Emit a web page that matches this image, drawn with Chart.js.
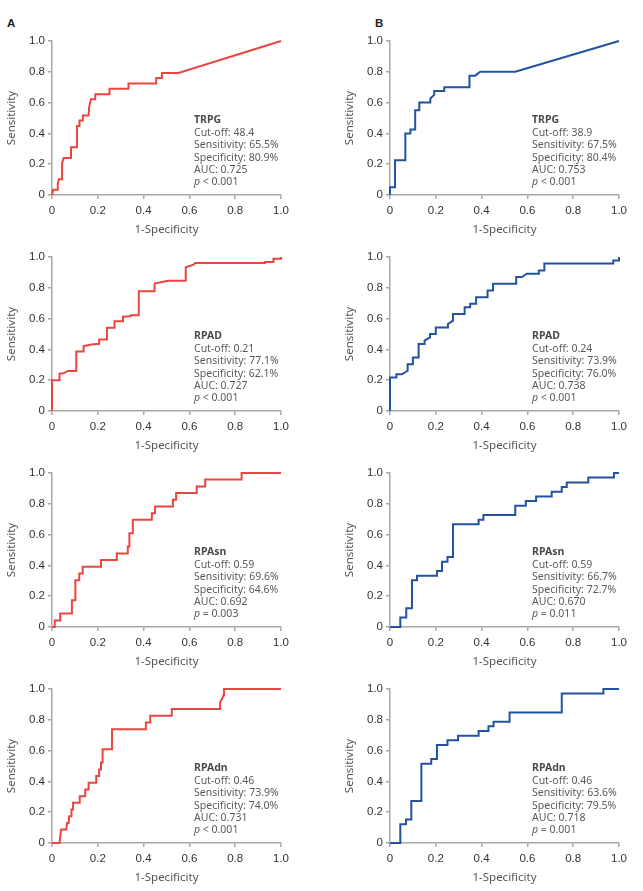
<!DOCTYPE html>
<html><head><meta charset="utf-8">
<script src="https://cdn.jsdelivr.net/npm/chart.js@4/dist/chart.umd.min.js"></script>
<style>
html,body{margin:0;padding:0;background:#fff;width:643px;height:891px;overflow:hidden;position:relative}
canvas{position:absolute}
.lab{position:absolute;font:bold 11.5px "Liberation Sans",Arial,sans-serif;color:#222}
</style></head><body>
<div class="lab" style="left:7px;top:17px">A</div>
<div class="lab" style="left:375px;top:17px">B</div>
<script>
// ---- tick labels ----
const tickLabels = ['0','0.2','0.4','0.6','0.8','1.0'];
const xTitle = '1-Specificity';
const yTitle = 'Sensitivity';

// ---- panel A (red) ----
const fprA1 = [0,0.005,0.022,0.025,0.03,0.044,0.044,0.051,0.083,0.083,0.109,0.109,0.12,0.12,0.135,0.135,0.16,0.162,0.17,0.189,0.189,0.251,0.251,0.334,0.334,0.455,0.455,0.478,0.48,0.552,1];
const tprA1 = [0,0.034,0.034,0.07,0.103,0.103,0.207,0.241,0.241,0.31,0.31,0.448,0.448,0.483,0.483,0.517,0.517,0.569,0.621,0.621,0.655,0.655,0.69,0.69,0.724,0.724,0.759,0.759,0.793,0.793,1];

const fprA2 = [0,0,0.033,0.033,0.05,0.07,0.106,0.106,0.138,0.138,0.172,0.206,0.206,0.24,0.24,0.273,0.273,0.31,0.31,0.344,0.344,0.379,0.379,0.448,0.448,0.48,0.508,0.584,0.584,0.618,0.625,0.93,0.93,0.967,0.967,1,1];
const tprA2 = [0,0.2,0.2,0.242,0.245,0.26,0.26,0.387,0.387,0.421,0.432,0.436,0.464,0.464,0.54,0.54,0.583,0.583,0.612,0.616,0.622,0.622,0.778,0.778,0.828,0.838,0.845,0.845,0.933,0.95,0.961,0.961,0.968,0.968,0.989,0.989,1];

const fprA3 = [0,0.012,0.012,0.036,0.036,0.087,0.087,0.102,0.102,0.119,0.119,0.134,0.134,0.214,0.214,0.283,0.283,0.331,0.331,0.338,0.338,0.353,0.353,0.436,0.436,0.45,0.45,0.528,0.528,0.542,0.542,0.632,0.632,0.669,0.669,0.828,0.828,1];
const tprA3 = [0,0,0.043,0.043,0.087,0.087,0.174,0.174,0.304,0.304,0.348,0.348,0.391,0.391,0.435,0.435,0.478,0.478,0.522,0.522,0.609,0.609,0.696,0.696,0.739,0.739,0.783,0.783,0.826,0.826,0.87,0.87,0.913,0.913,0.957,0.957,1,1];

const fprA4 = [0,0.033,0.036,0.04,0.062,0.066,0.073,0.075,0.083,0.085,0.092,0.092,0.121,0.121,0.145,0.145,0.16,0.16,0.193,0.193,0.206,0.206,0.214,0.214,0.221,0.221,0.262,0.262,0.41,0.41,0.429,0.429,0.523,0.523,0.734,0.734,0.742,0.748,0.751,1];
const tprA4 = [0,0,0.043,0.087,0.087,0.13,0.13,0.174,0.174,0.217,0.217,0.261,0.261,0.304,0.304,0.348,0.348,0.391,0.391,0.435,0.435,0.478,0.478,0.522,0.522,0.609,0.609,0.739,0.739,0.783,0.783,0.826,0.826,0.87,0.87,0.913,0.935,0.957,1,1];

// ---- panel B (blue) ----
const fprB1 = [0,0,0.022,0.022,0.067,0.067,0.089,0.089,0.11,0.11,0.128,0.128,0.176,0.176,0.185,0.193,0.193,0.237,0.237,0.347,0.347,0.372,0.394,0.547,1];
const tprB1 = [0,0.05,0.05,0.225,0.225,0.4,0.4,0.425,0.425,0.55,0.55,0.6,0.6,0.625,0.64,0.65,0.675,0.675,0.7,0.7,0.775,0.775,0.8,0.8,1];

const fprB2 = [0,0,0.028,0.028,0.052,0.065,0.077,0.077,0.1,0.1,0.125,0.125,0.151,0.151,0.175,0.175,0.2,0.2,0.253,0.253,0.275,0.275,0.326,0.326,0.35,0.35,0.376,0.376,0.426,0.426,0.45,0.45,0.551,0.551,0.576,0.597,0.65,0.65,0.674,0.674,0.975,0.975,1,1];
const tprB2 = [0,0.217,0.217,0.239,0.239,0.25,0.261,0.304,0.304,0.348,0.348,0.435,0.435,0.457,0.478,0.5,0.5,0.543,0.543,0.565,0.587,0.63,0.63,0.674,0.674,0.696,0.696,0.739,0.739,0.783,0.783,0.826,0.826,0.87,0.87,0.891,0.891,0.913,0.913,0.957,0.957,0.978,0.978,1];

const fprB3 = [0,0.045,0.045,0.071,0.071,0.096,0.096,0.118,0.118,0.205,0.205,0.227,0.227,0.251,0.251,0.275,0.275,0.387,0.387,0.408,0.408,0.547,0.547,0.593,0.593,0.638,0.638,0.706,0.706,0.75,0.75,0.772,0.772,0.866,0.866,0.978,0.978,1];
const tprB3 = [0,0,0.061,0.061,0.121,0.121,0.303,0.303,0.333,0.333,0.364,0.364,0.424,0.424,0.455,0.455,0.667,0.667,0.697,0.697,0.727,0.727,0.788,0.788,0.818,0.818,0.848,0.848,0.879,0.879,0.909,0.909,0.939,0.939,0.97,0.97,1,1];

const fprB4 = [0,0.045,0.045,0.07,0.07,0.093,0.093,0.137,0.137,0.18,0.18,0.205,0.205,0.251,0.251,0.297,0.297,0.387,0.387,0.43,0.43,0.452,0.452,0.522,0.522,0.75,0.75,0.932,0.932,1];
const tprB4 = [0,0,0.121,0.121,0.152,0.152,0.273,0.273,0.515,0.515,0.545,0.545,0.636,0.636,0.667,0.667,0.697,0.697,0.727,0.727,0.758,0.758,0.788,0.788,0.848,0.848,0.97,0.97,1,1];

// ---- annotations ----
const markers   = ['TRPG','TRPG','RPAD','RPAD','RPAsn','RPAsn','RPAdn','RPAdn'];
const cutoffs   = ['48.4','38.9','0.21','0.24','0.59','0.59','0.46','0.46'];
const sensTexts = ['65.5%','67.5%','77.1%','73.9%','69.6%','66.7%','73.9%','63.6%'];
const specTexts = ['80.9%','80.4%','62.1%','76.0%','64.6%','72.7%','74.0%','79.5%'];
const aucTexts  = ['0.725','0.753','0.727','0.738','0.692','0.670','0.731','0.718'];
const pTexts    = ['< 0.001','< 0.001','< 0.001','< 0.001','= 0.003','= 0.011','< 0.001','= 0.001'];

const series = [
  [fprA1,tprA1],[fprB1,tprB1],
  [fprA2,tprA2],[fprB2,tprB2],
  [fprA3,tprA3],[fprB3,tprB3],
  [fprA4,tprA4],[fprB4,tprB4]
];

const RED = '#ea4640', BLUE = '#23529f';
const AX = '#a8a8a8';
const TXT_FONT = '"Noto Sans", "Open Sans", sans-serif';

const annotPlugin = {
  id: 'annot',
  afterDatasetsDraw(chart, args, o) {
    const {ctx, chartArea} = chart;
    const x = chartArea.left + 142;
    let y = chartArea.top + 79;
    const lh = 12.2;
    ctx.save();
    ctx.textAlign = 'left';
    ctx.textBaseline = 'middle';
    ctx.fillStyle = '#4a4a4a';
    ctx.font = 'bold 10.5px ' + TXT_FONT;
    ctx.fillText(markers[o.idx], x, y);
    ctx.fillStyle = '#5a5a5a';
    ctx.font = '10.5px ' + TXT_FONT;
    y += lh + 1; ctx.fillText('Cut-off: ' + cutoffs[o.idx], x, y);
    y += lh; ctx.fillText('Sensitivity: ' + sensTexts[o.idx], x, y);
    y += lh; ctx.fillText('Specificity: ' + specTexts[o.idx], x, y);
    y += lh; ctx.fillText('AUC: ' + aucTexts[o.idx], x, y);
    y += lh;
    ctx.font = 'italic 10.5px ' + TXT_FONT;
    ctx.fillText('p', x, y);
    const w = ctx.measureText('p ').width;
    ctx.font = '10.5px ' + TXT_FONT;
    ctx.fillText(pTexts[o.idx], x + w, y);
    ctx.restore();
  }
};

function axisCfg(isY) {
  return {
    type: 'linear', min: 0, max: 1,
    grid: { display: true, drawOnChartArea: false, drawTicks: true, tickLength: 4, color: AX, lineWidth: 1.5 },
    border: { display: true, color: AX, width: 1.5 },
    ticks: {
      stepSize: 0.2, autoSkip: false, maxRotation: 0,
      padding: isY ? 3 : 5,
      color: '#333',
      font: { family: '"Liberation Sans", Arial, sans-serif', size: 11.5 },
      callback: (v, i) => tickLabels[i]
    },
    title: {
      display: true, text: isY ? yTitle : xTitle, color: '#555',
      font: { family: TXT_FONT, size: 11.5 },
      padding: isY ? { top: 5, bottom: 0 } : { top: 0, bottom: 3 }
    },
    afterFit: (s) => { if (isY) s.width = 52; else s.height = 45; }
  };
}

series.forEach(([fpr, tpr], idx) => {
  const row = Math.floor(idx / 2), col = idx % 2;
  const cv = document.createElement('canvas');
  const W = col ? 323 : 320, H = 245;
  cv.width = W; cv.height = H;
  cv.style.width = W + 'px'; cv.style.height = H + 'px';
  cv.style.left = (col ? 320 : 0) + 'px';
  cv.style.top = (216 * row) + 'px';
  document.body.appendChild(cv);
  new Chart(cv, {
    type: 'scatter',
    data: {
      datasets: [{
        data: fpr.map((x, i) => ({ x, y: tpr[i] })),
        showLine: true, borderColor: col ? BLUE : RED, borderWidth: 2,
        pointRadius: 0, pointHoverRadius: 0, tension: 0, clip: false,
        borderJoinStyle: 'miter'
      }]
    },
    options: {
      responsive: false, animation: false, devicePixelRatio: 1,
      layout: { padding: { left: col ? 18 : 0, right: col ? 24 : 39, top: 41, bottom: 5 } },
      plugins: { legend: { display: false }, tooltip: { enabled: false }, annot: { idx } },
      scales: { x: axisCfg(false), y: axisCfg(true) }
    },
    plugins: [annotPlugin]
  });
});
</script>
</body></html>
